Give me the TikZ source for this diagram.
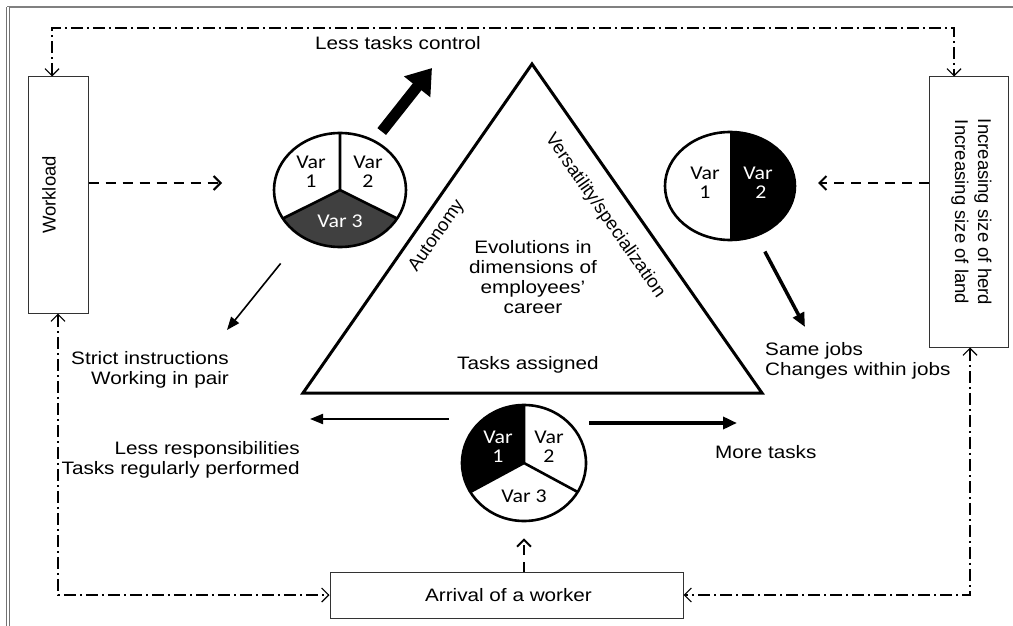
\documentclass[tikz,border=0pt]{standalone}
\usepackage{fontspec}
\setmainfont[FakeStretch=1.15]{Liberation Sans}
\newfontfamily\rotfont{Liberation Sans}
\newfontfamily\piefont[FakeStretch=1.12]{Carlito}
\usetikzlibrary{arrows.meta,shapes.geometric}
\tikzset{
    box/.style={draw=black!80, line width=1pt, inner sep=0pt},
    pie/.style={ellipse, draw, line width=2.6pt, inner sep=0pt},
    pieline/.style={line width=2.6pt},
    lbl/.style={font=\fontsize{18}{20}\selectfont, inner sep=0pt},
    rlbl/.style={font=\rotfont\fontsize{18.5}{23}\selectfont, inner sep=0pt},
    var/.style={font=\piefont\fontsize{19.5}{19}\selectfont, align=center, inner sep=0pt},
    ddline/.style={line width=1.2pt, dash pattern=on 12pt off 4pt on 2pt off 4pt, >={Straight Barb[length=7pt,width=14pt]}},
    dline/.style={line width=2pt, dash pattern=on 10pt off 7pt, >={Straight Barb[length=7pt,width=14pt]}},
    bigarrow/.style={line width=11pt, -{Triangle[length=24pt,width=32pt]}},
    medarrow/.style={line width=3.5pt, -{Triangle[length=14pt,width=12pt]}},
    thinarrow/.style={line width=1.6pt, -{Triangle[length=13pt,width=10pt]}}
}
\begin{document}
\begin{tikzpicture}[x=1pt,y=-1pt]
    \useasboundingbox (0,0) rectangle (1013,626);
    \draw[black!50, line width=2pt] (7,7) -- (1013,7);
    \draw[black!55, double=white, double distance=1.6pt, line width=0.8pt] (8,7) -- (8,626);

    \node[box, minimum width=60pt, minimum height=236pt] (workload) at (58,195) {};
    \node[rlbl, rotate=90] at ([xshift=-9pt]workload.center) {Workload};
    \node[box, minimum width=79pt, minimum height=270pt] (herd) at (968.5,212) {};
    \node[rlbl, rotate=-90, align=center] at ([xshift=3pt]herd.center) {Increasing size of herd\\Increasing size of land};
    \node[box, minimum width=353pt, minimum height=46pt] (arrival) at (506.5,595) {};
    \node[lbl] at ([xshift=2pt]arrival.center) {Arrival of a worker};

    \draw[line width=3pt, line join=miter] (303,393) -- (532,64) -- (762,393) -- cycle;
    \node[rlbl, rotate=55] (autonomy) at (437,236) {Autonomy};
    \node[rlbl, rotate=-55] (versat) at (605,216) {Versatility/specialization};
    \node[lbl, align=center] (evol) at (533,277) {Evolutions in\\dimensions of\\employees'\\career};
    \node[lbl] (assigned) at (528,365) {Tasks assigned};

    \coordinate (cA) at (340,190);
    \begin{scope}[shift={(cA)}, yscale=-1]
        \fill[black!75] (0,0) -- (210:66 and 57) arc[start angle=210, end angle=330, x radius=66, y radius=57] -- cycle;
        \draw[pieline] (90:66 and 57) -- (0,0) -- (210:66 and 57) (0,0) -- (330:66 and 57);
    \end{scope}
    \node[pie, minimum width=132pt, minimum height=114pt] (pieA) at (cA) {};
    \node[var] at (311,172) {Var\\1};
    \node[var] at (368,172) {Var\\2};
    \node[var, text=white] at (340,221) {Var 3};

    \coordinate (cB) at (730,186);
    \begin{scope}[shift={(cB)}, yscale=-1]
        \fill (0,0) -- (90:65 and 54) arc[start angle=90, end angle=-90, x radius=65, y radius=54] -- cycle;
    \end{scope}
    \node[pie, minimum width=130pt, minimum height=108pt] (pieB) at (cB) {};
    \node[var] at (705,183) {Var\\1};
    \node[var, text=white] at (758,183) {Var\\\hspace*{6pt}2};

    \coordinate (cC) at (524,463);
    \begin{scope}[shift={(cC)}, yscale=-1]
        \fill (0,0) -- (90:62 and 58) arc[start angle=90, end angle=210, x radius=62, y radius=58] -- cycle;
        \draw[pieline] (90:62 and 58) -- (0,0) -- (210:62 and 58) (0,0) -- (330:62 and 58);
    \end{scope}
    \node[pie, minimum width=124pt, minimum height=116pt] (pieC) at (cC) {};
    \node[var, text=white] at (498,447) {Var\\1};
    \node[var] at (549,447) {Var\\2};
    \node[var] at (524,496) {Var 3};

    \node[lbl] (less) at (398,43) {Less tasks control};
    \node[lbl, anchor=east, align=right] (strict) at (229,370) {Strict instructions\\Working in pair};
    \node[lbl, anchor=east, align=right] (lessresp) at (300,460) {Less responsibilities\\Tasks regularly performed};
    \node[lbl, anchor=west, align=left] (same) at (765,361) {Same jobs\\Changes within jobs};
    \node[lbl, anchor=west] (more) at (715,452) {More tasks};

    \coordinate (lessTip) at (432,68);
    \coordinate (strictTip) at (227,330);
    \coordinate (sameTip) at (805,327);
    \coordinate (lessrespTip) at (310,419);
    \coordinate (moreTip) at (737,423);
    \draw[bigarrow, shorten <=11pt] (pieA.55) -- (lessTip);
    \draw[thinarrow, shorten <=33pt] (pieA.231) -- (strictTip);
    \draw[medarrow, shorten <=17pt] (pieB.-62) -- (sameTip);
    \draw[thinarrow, line width=2pt] ([xshift=-12pt]pieC.west |- lessrespTip) -- (lessrespTip);
    \draw[medarrow] ([xshift=2pt]pieC.east |- moreTip) -- (moreTip);

    \coordinate (wlTip) at (222,183);
    \coordinate (herdTip) at (818,183);
    \draw[dline, ->] (workload.east |- wlTip) -- (wlTip);
    \draw[dline, ->] (herd.west |- herdTip) -- (herdTip);
    \draw[dline, ->] (arrival.north -| cC) -- ([yshift=-16pt]pieC.south);

    \coordinate (topL) at (52,28);
    \coordinate (topR) at (954,28);
    \coordinate (botL) at (58,595);
    \coordinate (botR) at (970,595);
    \draw[ddline, <->] (workload.north -| topL) -- (topL) -- (topR) -- (herd.north -| topR);
    \draw[ddline, <->] (workload.south) -- (botL) -- (arrival.west);
    \draw[ddline, <->] (herd.south -| botR) -- (botR) -- (arrival.east);
\end{tikzpicture}
\end{document}
